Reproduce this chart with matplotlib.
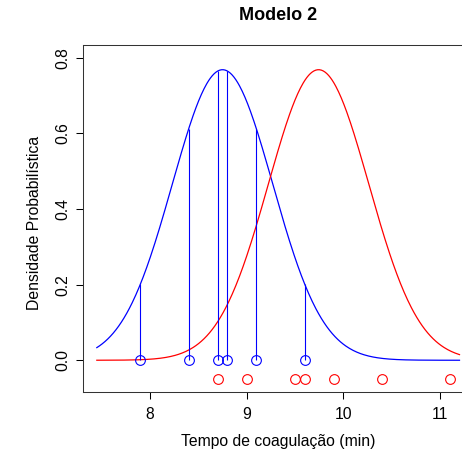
import matplotlib
matplotlib.use("Agg")
import matplotlib.pyplot as plt
import numpy as np

# observations (min)
tempo_modelo_a = [7.9, 8.4, 8.7, 8.8, 9.1, 9.6]
tempo_modelo_b = [8.7, 9.0, 9.5, 9.6, 9.9, 10.4, 11.1]

# normal densities
media_a = 8.75
media_b = 9.743
desvio = 0.519

x_curve = np.linspace(7.45, 11.2, 400)


def dnorm(x, m, s):
    x = np.asarray(x, dtype=float)
    return np.exp(-0.5 * ((x - m) / s) ** 2) / (s * np.sqrt(2 * np.pi))


def main():
    plt.rcParams['font.family'] = ['Liberation Sans', 'DejaVu Sans']
    fig = plt.figure(figsize=(4.62, 4.54), dpi=100)
    W, H = 462, 454
    left, right, top, bottom = 82.5, 474, 45, 392
    ax = fig.add_axes([left / W, 1 - bottom / H, (right - left) / W, (bottom - top) / H])

    lw = 0.9
    ax.plot(x_curve, dnorm(x_curve, media_a, desvio), color='blue', lw=lw)
    ax.plot(x_curve, dnorm(x_curve, media_b, desvio), color='red', lw=lw)

    d_a = dnorm(tempo_modelo_a, media_a, desvio)
    ax.vlines(tempo_modelo_a, 0, d_a, color='blue', lw=0.8)
    ax.plot(tempo_modelo_a, np.zeros(len(tempo_modelo_a)), 'o', mfc='none',
            mec='blue', ms=7, mew=0.8)
    ax.plot(tempo_modelo_b, np.full(len(tempo_modelo_b), -0.05), 'o', mfc='none',
            mec='red', ms=7, mew=0.8)

    ax.set_xlim(7.302, 11.35)
    ax.set_ylim(-0.084, 0.834)

    ax.set_xticks([8, 9, 10, 11])
    ax.set_yticks([0.0, 0.2, 0.4, 0.6, 0.8])
    ax.set_yticklabels(['0.0', '0.2', '0.4', '0.6', '0.8'], rotation=90, va='center')
    ax.tick_params(labelsize=11.3, length=5, width=0.75, color='black')
    ax.tick_params(axis='y', pad=4)
    ax.tick_params(axis='x', pad=6)
    for s in ax.spines.values():
        s.set_linewidth(0.75)
        s.set_color('#333333')

    ax.set_xlabel('Tempo de coagulação (min)', fontsize=11.3)
    ax.set_ylabel('Densidade Probabilística', fontsize=11.3)
    # label centres measured on the reference (pixels)
    ax.xaxis.set_label_coords(0.5, -(441.5 - bottom) / (bottom - top))
    ax.yaxis.set_label_coords(-(left - 35) / (right - left), (bottom - 223) / (bottom - top))
    ax.xaxis.label.set_va('center')
    ax.yaxis.label.set_va('center')
    fig.text(278 / W, 1 - 16 / H, 'Modelo 2', fontsize=13, fontweight='bold',
             ha='center', va='center')

    fig.savefig('out.png', dpi=100)


if __name__ == "__main__":
    main()
